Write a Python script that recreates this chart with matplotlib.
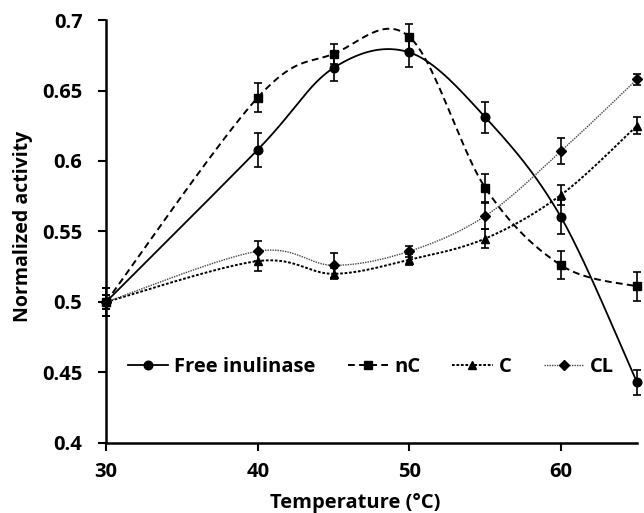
import numpy as np
import matplotlib
matplotlib.use("Agg")
import matplotlib.pyplot as plt

temps = [30, 40, 45, 50, 55, 60, 65]
free = [0.500, 0.608, 0.666, 0.677, 0.631, 0.560, 0.443]
free_err = [0.010, 0.012, 0.009, 0.010, 0.011, 0.012, 0.009]
nC = [0.500, 0.645, 0.676, 0.688, 0.581, 0.526, 0.511]
nC_err = [0.010, 0.010, 0.007, 0.009, 0.010, 0.010, 0.010]
C = [0.500, 0.529, 0.520, 0.530, 0.545, 0.576, 0.625]
C_err = [0.005, 0.007, 0.004, 0.004, 0.007, 0.007, 0.006]
CL = [0.500, 0.536, 0.526, 0.536, 0.561, 0.607, 0.658]
CL_err = [0.005, 0.007, 0.009, 0.004, 0.009, 0.009, 0.004]
labels = ["Free inulinase", "nC", "C", "CL"]
xticks = [30, 40, 50, 60]
yticks = [0.4, 0.45, 0.5, 0.55, 0.6, 0.65, 0.7]
ytick_labels = ["0.4", "0.45", "0.5", "0.55", "0.6", "0.65", "0.7"]

plt.rcParams['font.family'] = ['Open Sans', 'DejaVu Sans']
plt.rcParams['font.weight'] = 'bold'

fig = plt.figure(figsize=(6.44, 5.13), dpi=100)
ax = fig.add_axes([0.1646, 0.1365, 0.8245, 0.8245])

XLIM = (30, 65)
YLIM = (0.4, 0.7)

def smooth(xs, ys, n=60):
    # Excel-like parametric Catmull-Rom smoothing in screen-proportional space
    sx = 531.0 / (XLIM[1] - XLIM[0])
    sy = 423.0 / (YLIM[1] - YLIM[0])
    P = np.column_stack([np.array(xs, float) * sx, np.array(ys, float) * sy])
    m = len(P)
    out = []
    for i in range(m - 1):
        p0 = P[i - 1] if i > 0 else P[i]
        p1 = P[i]
        p2 = P[i + 1]
        p3 = P[i + 2] if i + 2 < m else P[i + 1]
        b1 = p1 + (p2 - p0) / 6.0
        b2 = p2 - (p3 - p1) / 6.0
        t = np.linspace(0, 1, n)[:, None]
        seg = ((1 - t) ** 3) * p1 + 3 * ((1 - t) ** 2) * t * b1 + 3 * (1 - t) * t ** 2 * b2 + t ** 3 * p2
        out.append(seg if i == 0 else seg[1:])
    S = np.vstack(out)
    return S[:, 0] / sx, S[:, 1] / sy

series = [
    (free, free_err, 'o', 6.2, dict(color='black', lw=1.3, ls='-')),
    (nC, nC_err, 's', 5.6, dict(color='black', lw=1.4, ls=(0, (3.5, 2.2)))),
    (C, C_err, '^', 6.2, dict(color='black', lw=1.4, ls=(0, (1.4, 0.9)))),
    (CL, CL_err, 'D', 4.6, dict(color='#444444', lw=1.0, ls=(0, (1, 0.8)))),
]

handles = []
for (ys, es, mk, ms, st), lab in zip(series, labels):
    sxs, sys_ = smooth(temps, ys)
    ax.plot(sxs, sys_, clip_on=False, zorder=2, **st)
    ax.errorbar(temps, ys, yerr=es, fmt='none', ecolor='black', elinewidth=1.2,
                capsize=3, capthick=1.2, clip_on=False, zorder=3)
    ax.plot(temps, ys, ls='none', marker=mk, ms=ms, color='black', clip_on=False, zorder=4)
    h, = ax.plot([], [], marker=mk, ms=ms, markerfacecolor='black', markeredgecolor='black', **st)
    handles.append(h)

ax.set_xlim(*XLIM)
ax.set_ylim(*YLIM)
ax.set_xticks(xticks)
ax.set_yticks(yticks)
ax.set_yticklabels(ytick_labels)
for sp in ['top', 'right']:
    ax.spines[sp].set_visible(False)
for sp in ['left', 'bottom']:
    ax.spines[sp].set_linewidth(1.8)
ax.tick_params(axis='both', direction='out', length=6, width=1.5, labelsize=14.5)
ax.tick_params(axis='y', pad=11)
ax.tick_params(axis='x', pad=8)
for lbl in ax.get_xticklabels() + ax.get_yticklabels():
    lbl.set_fontweight('bold')

ax.set_xlabel("Temperature (°C)", fontsize=14.5, fontweight='bold')
ax.set_ylabel("Normalized activity", fontsize=14, fontweight='bold')
ax.xaxis.set_label_coords((355 - 106) / 531.0, -(508 - 443) / 423.0)
ax.xaxis.label.set_va('baseline')
ax.yaxis.set_label_coords(-(106 - 13) / 531.0, (443 - 226) / 423.0)
ax.yaxis.label.set_va('top')

leg = ax.legend(handles, labels, ncol=4, loc='center left', bbox_to_anchor=(0.041, 0.18),
                frameon=False, handlelength=2.0, handletextpad=0.3, columnspacing=1.6,
                borderpad=0, borderaxespad=0, numpoints=1,
                prop={'size': 14.5, 'weight': 'bold'})

fig.savefig("out.png", dpi=100)
